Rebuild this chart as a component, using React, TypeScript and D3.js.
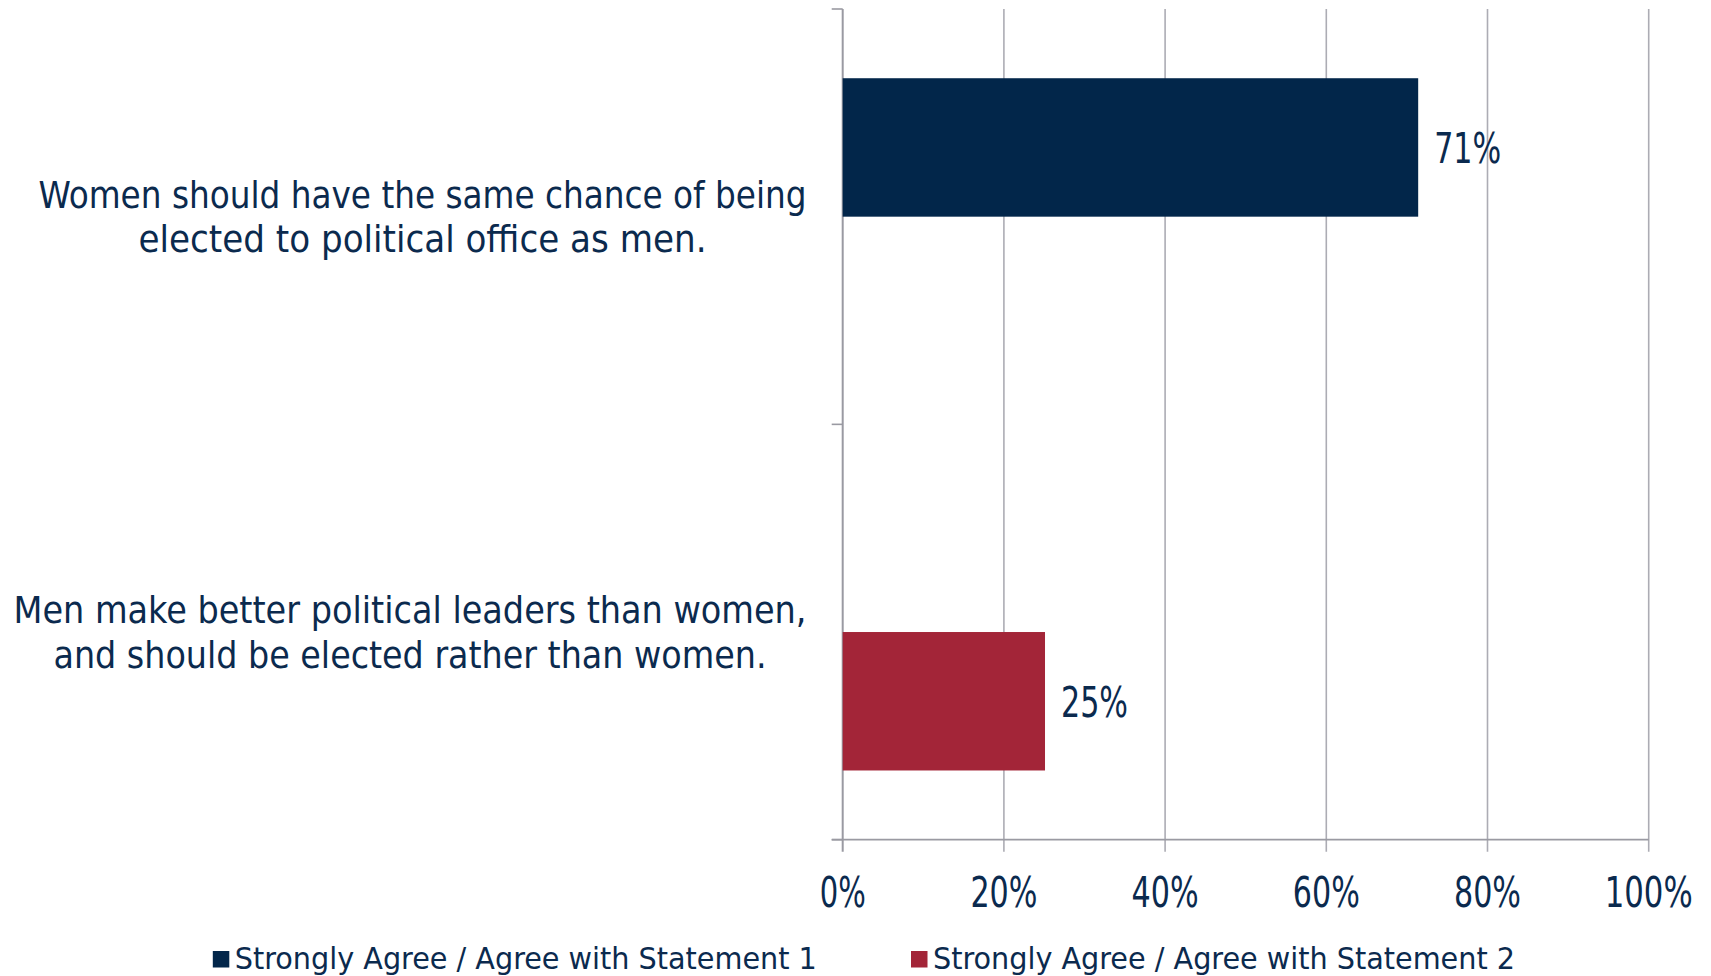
import React from "react";
import * as d3 from "d3";

const categories = [
  "Women should have the same chance of being elected to political office as men.",
  "Men make better political leaders than women, and should be elected rather than women.",
];
const categoryLines = [
  ["Women should have the same chance of being", "elected to political office as men."],
  ["Men make better political leaders than women,", "and should be elected rather than women."],
];
const seriesNames = [
  "Strongly Agree / Agree with Statement 1",
  "Strongly Agree / Agree with Statement 2",
];
const series1Values: (number | null)[] = [71.4, null];
const series2Values: (number | null)[] = [null, 25.1];
const tickValues = [0, 20, 40, 60, 80, 100];

const W = 1711;
const H = 976;
const NAVY = "#02264a";
const RED = "#a32538";
const TEXT = "#0b2a4e";
const GRID = "#acacb4";
const AXIS = "#9a9aa2";
const FONT = "'DejaVu Sans Condensed', 'DejaVu Sans', sans-serif";

// label layout (width of each line, centre x)
const lineWidths = [
  [768, 568],
  [793, 713],
];
const lineCenters = [422.5, 410];

export default function App() {
  const x = d3.scaleLinear().domain([0, 100]).range([842.7, 1648.7]);
  const y = d3.scaleBand<string>().domain(categories).range([9, 839.7]).padding(0);
  const inner = d3
    .scaleBand<number>()
    .domain([0, 1])
    .range([0, y.bandwidth()])
    .paddingInner(0)
    .paddingOuter(0.5);
  const colors = [NAVY, RED];
  const allSeries = [series1Values, series2Values];
  const x0 = x(0);
  const yTop = y.range()[0];
  const yBot = y.range()[1];
  const tickW = (s: string) => (s.length - 1) * 21 + 25;

  return (
    <div style={{ position: "absolute", left: 0, top: 0 }}>
      <svg width={W} height={H} style={{ display: "block", background: "#fff" }}>
        {/* gridlines */}
        {tickValues.filter((t) => t > 0).map((t) => (
          <line key={"g" + t} x1={x(t)} x2={x(t)} y1={yTop} y2={yBot + 12} stroke={GRID} strokeWidth={1.6} />
        ))}
        {/* left axis */}
        <line x1={x0} x2={x0} y1={yTop} y2={yBot + 12} stroke={AXIS} strokeWidth={2} />
        {[yTop, ...categories.map((c) => (y(c) as number) + y.bandwidth())].map((v, i) => (
          <line key={"lt" + i} x1={x0 - 11} x2={x0} y1={v} y2={v} stroke={AXIS} strokeWidth={1.6} />
        ))}
        {/* bottom axis */}
        <line x1={x0 - 11} x2={x(100)} y1={yBot} y2={yBot} stroke={AXIS} strokeWidth={1.8} />
        {/* bars */}
        {categories.map((c, ci) =>
          allSeries.map((vals, si) => {
            const v = vals[ci];
            if (v == null) return null;
            const by = (y(c) as number) + (inner(si) as number);
            return (
              <g key={c + si}>
                <rect x={x0} y={by} width={x(v) - x0} height={inner.bandwidth()} fill={colors[si]} />
                <text
                  x={x(v) + 16}
                  y={by + inner.bandwidth() / 2 + 15.5}
                  fontFamily={FONT}
                  fontSize={42}
                  fill={TEXT}
                  textLength={tickW(Math.round(v) + "%")}
                  lengthAdjust="spacingAndGlyphs"
                >
                  {Math.round(v) + "%"}
                </text>
              </g>
            );
          })
        )}
        {/* tick labels */}
        {tickValues.map((t) => {
          const s = t + "%";
          const w = tickW(s);
          return (
            <text
              key={"t" + t}
              x={x(t) - w / 2}
              y={906.7}
              fontFamily={FONT}
              fontSize={42}
              fill={TEXT}
              textLength={w}
              lengthAdjust="spacingAndGlyphs"
            >
              {s}
            </text>
          );
        })}
        {/* category labels */}
        {categories.map((c, ci) => {
          const cy = (y(c) as number) + y.bandwidth() / 2;
          return categoryLines[ci].map((ln, li) => (
            <text
              key={c + li}
              x={lineCenters[ci] - lineWidths[ci][li] / 2}
              y={cy - 8.6 + li * 44.2}
              fontFamily={FONT}
              fontSize={37.5}
              fill={TEXT}
              textLength={lineWidths[ci][li]}
              lengthAdjust="spacingAndGlyphs"
            >
              {ln}
            </text>
          ));
        })}
        {/* legend */}
        {seriesNames.map((s, i) => {
          const lx = [212.8, 911][i];
          return (
            <g key={s}>
              <rect x={lx} y={951} width={16.5} height={16.5} fill={colors[i]} />
              <text
                x={lx + 22}
                y={969}
                fontFamily={FONT}
                fontSize={31}
                fill={TEXT}
                textLength={582}
                lengthAdjust="spacingAndGlyphs"
              >
                {s}
              </text>
            </g>
          );
        })}
      </svg>
    </div>
  );
}
